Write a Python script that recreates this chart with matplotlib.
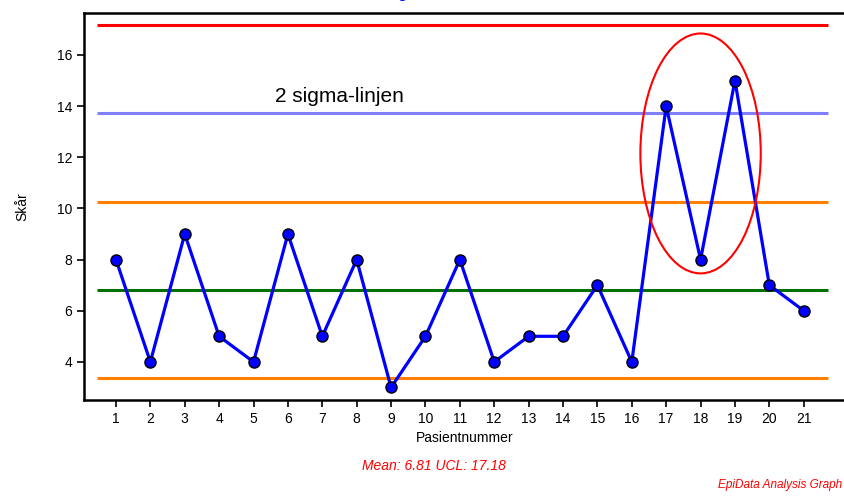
import numpy as np
import matplotlib
matplotlib.use('Agg')
import matplotlib.pyplot as plt
from matplotlib.patches import Ellipse

plt.rcParams['font.family'] = ['Liberation Sans Narrow', 'Liberation Sans', 'DejaVu Sans']

# data
patients = list(range(1, 22))
scores = [8, 4, 9, 5, 4, 9, 5, 8, 3, 5, 8, 4, 5, 5, 7, 4, 14, 8, 15, 7, 6]
mean = 6.81
ucl = 17.18
sigma = (ucl - mean) / 3
ref_levels = [ucl, mean + 2 * sigma, mean + sigma, mean, mean - sigma]
ref_colors = ['#ff0000', '#8080ff', '#ff8000', '#007000', '#ff8000']
yticks = [4, 6, 8, 10, 12, 14, 16]

fig = plt.figure(figsize=(8.45, 5.01), dpi=100)
ax = fig.add_axes([0.0994, 0.2016, 0.9006, 0.7724])

for lvl, col in zip(ref_levels, ref_colors):
    ax.plot([0.45, 21.7], [lvl, lvl], color=col, lw=2.2, solid_capstyle='butt', zorder=2)

ax.plot(patients, scores, color='#0000ff', lw=2.3, zorder=3,
        marker='o', markersize=8, markerfacecolor='#0000ff',
        markeredgecolor='black', markeredgewidth=1)

# circle round the outliers
ax.add_patch(Ellipse((18.0, 12.15), 3.5, 9.38, fill=False, edgecolor='#ff0000', lw=1.5, zorder=4))
ax.text(5.63, 14.36, '2 sigma-linjen', fontsize=15, va='center', ha='left',
        family=['Liberation Sans', 'DejaVu Sans'])

ax.set_xlim(0.07, 22.2)
ax.set_ylim(2.51, 17.64)
ax.set_xticks(patients)
ax.set_yticks(yticks)
ax.tick_params(labelsize=10, length=5, width=1.2, direction='out')
ax.spines['right'].set_visible(False)
for s in ['top', 'left', 'bottom']:
    ax.spines[s].set_linewidth(1.8)
ax.set_ylabel('Skår', fontsize=10, labelpad=20)
ax.set_xlabel('Pasientnummer', fontsize=10, labelpad=4)

fig.text(0.513, 0.070, 'Mean: 6.81 UCL: 17.18', color='#ff0000', fontsize=10,
         style='italic', ha='center', va='center')
fig.text(0.997, 0.032, 'EpiData Analysis Graph', color='#ff0000', fontsize=8.5,
         style='italic', ha='right', va='center')
# title sits mostly above the visible area
fig.text(0.47, 1.004, 'g', color='#0000ff', fontsize=12, ha='left', va='baseline')

fig.savefig('out.png', dpi=100)
